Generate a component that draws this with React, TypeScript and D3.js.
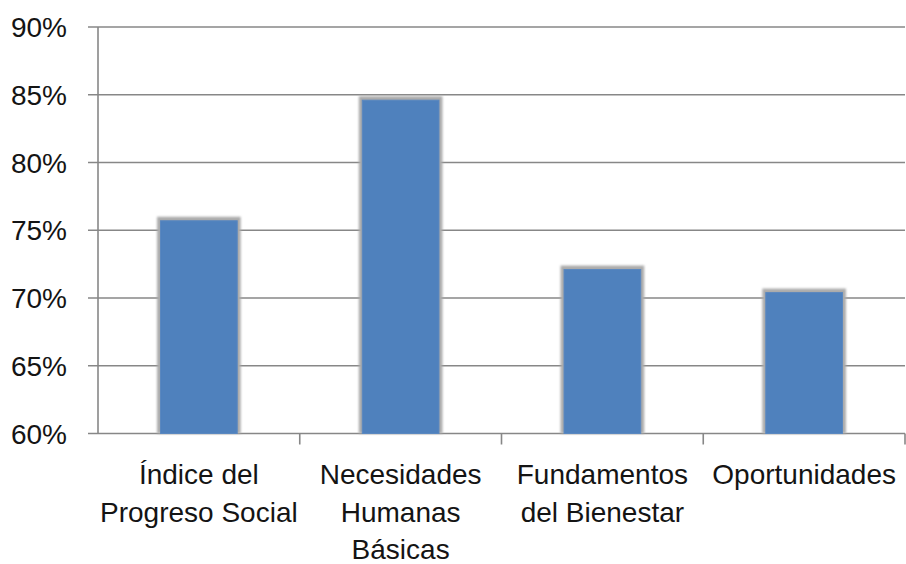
import React from 'react';
import * as d3 from 'd3';

const categories: string[][] = [
  ['Índice del', 'Progreso Social'],
  ['Necesidades', 'Humanas', 'Básicas'],
  ['Fundamentos', 'del Bienestar'],
  ['Oportunidades'],
];
const values = [0.757, 0.846, 0.721, 0.704];
const yTicks = [0.6, 0.65, 0.7, 0.75, 0.8, 0.85, 0.9];

const App: React.FC = () => {
  const ref = React.useRef<SVGSVGElement>(null);

  React.useEffect(() => {
    if (!ref.current) return;
    const left = 98;
    const right = 905;
    const top = 27;
    const bottom = 433.5;

    const svg = d3.select(ref.current);
    svg.selectAll('*').remove();

    const x = d3.scaleBand<number>()
      .domain(categories.map((_, i) => i))
      .range([left, right])
      .paddingInner(0.62)
      .paddingOuter(0.31);
    // band boundaries for tick marks
    const step = (right - left) / categories.length;

    const y = d3.scaleLinear().domain([0.6, 0.9]).range([bottom, top]);

    const defs = svg.append('defs');
    defs.append('filter')
      .attr('id', 'shade')
      .attr('x', '-20%').attr('y', '-20%')
      .attr('width', '140%').attr('height', '140%')
      .append('feGaussianBlur')
      .attr('stdDeviation', 1.3);

    const fmt = d3.format('.0%');

    // gridlines + left ticks
    svg.append('g')
      .selectAll('line')
      .data(yTicks)
      .join('line')
      .attr('x1', left - 10)
      .attr('x2', right)
      .attr('y1', d => y(d))
      .attr('y2', d => y(d))
      .attr('stroke', '#878787')
      .attr('stroke-width', 1.6);

    // y axis line
    svg.append('line')
      .attr('x1', left).attr('x2', left)
      .attr('y1', top).attr('y2', bottom)
      .attr('stroke', '#878787')
      .attr('stroke-width', 1.6);

    // x tick marks
    svg.append('g')
      .selectAll('line')
      .data(d3.range(1, categories.length + 1))
      .join('line')
      .attr('x1', i => left + i * step)
      .attr('x2', i => left + i * step)
      .attr('y1', bottom)
      .attr('y2', bottom + 11)
      .attr('stroke', '#878787')
      .attr('stroke-width', 1.6);

    // y labels
    svg.append('g')
      .attr('text-anchor', 'end')
      .style('font-family', '"Liberation Sans", Arial, sans-serif')
      .style('font-size', '28px')
      .attr('fill', '#141414')
      .selectAll('text')
      .data(yTicks)
      .join('text')
      .attr('x', 67)
      .attr('y', d => y(d))
      .attr('dy', '0.36em')
      .text(d => fmt(d));

    // bars with soft grey glow
    const bars = svg.append('g')
      .selectAll('g')
      .data(values)
      .join('g');

    bars.append('rect')
      .attr('x', (_, i) => (x(i) as number) - 3.5)
      .attr('width', x.bandwidth() + 7)
      .attr('y', d => y(d) - 4)
      .attr('height', d => bottom - y(d) + 4)
      .attr('fill', '#ababab')
      .attr('filter', 'url(#shade)');

    bars.append('rect')
      .attr('x', (_, i) => x(i) as number)
      .attr('width', x.bandwidth())
      .attr('y', d => y(d))
      .attr('height', d => bottom - y(d))
      .attr('fill', '#4F81BD')
      .attr('stroke', '#5a88c0')
      .attr('stroke-width', 1);

    // category labels
    const labels = svg.append('g')
      .attr('text-anchor', 'middle')
      .style('font-family', '"Liberation Sans", Arial, sans-serif')
      .style('font-size', '28px')
      .attr('fill', '#141414');

    categories.forEach((lines, i) => {
      const cx = (x(i) as number) + x.bandwidth() / 2;
      const t = labels.append('text').attr('x', cx).attr('y', 484);
      lines.forEach((ln, j) => {
        t.append('tspan')
          .attr('x', cx)
          .attr('dy', j === 0 ? 0 : 37.5)
          .text(ln);
      });
    });
  }, []);

  return (
    <svg
      ref={ref}
      width={906}
      height={564}
      style={{ position: 'fixed', left: 0, top: 0, background: '#fff' }}
    />
  );
};

export default App;
